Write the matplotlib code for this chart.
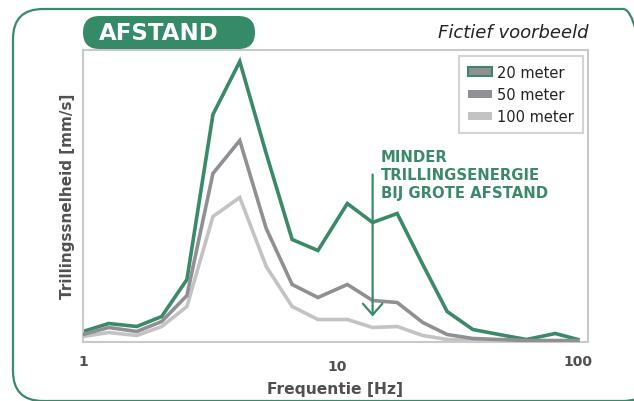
import matplotlib
matplotlib.use("Agg")
import matplotlib.pyplot as plt
from matplotlib.patches import FancyBboxPatch, Patch
from matplotlib.transforms import IdentityTransform, ScaledTranslation

# ---- data ----
freq = [1, 1.27, 1.65, 2.08, 2.63, 3.35, 4.3, 5.5, 7.0, 8.9, 11.7, 14.8,
        18.6, 23.6, 29.6, 37.6, 48, 62, 81, 100]
v20 = [10, 18, 15, 25, 62, 227, 280, 188, 102, 91, 138, 119, 128, 77, 30, 12, 7, 2, 8, 2]
v50 = [7, 14, 10, 20, 46, 168, 201, 113, 57, 44, 57, 41, 39, 19, 7, 3, 2, 1, 1, 1]
v100 = [5, 9, 6, 15, 35, 125, 144, 75, 35, 22, 22, 14, 15, 6, 2, 1, 0, 0, 0, 0]
series_labels = ["20 meter", "50 meter", "100 meter"]
xtick_vals = [1, 10, 100]
xtick_labels = ["1", "10", "100"]
arrow_freq = 14.8
arrow_top, arrow_tip = 167, 25

GREEN = "#3a8a69"
GRAY = "#909094"
LIGHT = "#c3c3c5"
TXT = "#505050"

fig = plt.figure(figsize=(6.34, 4.02), dpi=100)
W, H = 634, 402
L, R, T, B = 83, 588, 50.7, 342.5
ax = fig.add_axes([L / W, (H - B) / H, (R - L) / W, (B - T) / H])

lw = 2.6
ax.plot(freq, v20, color=GREEN, lw=lw, zorder=2, solid_joinstyle="miter")
ax.plot(freq, v100, color=LIGHT, lw=lw, zorder=2.5, solid_joinstyle="miter")
ax.plot(freq, v50, color=GRAY, lw=lw, zorder=3, solid_joinstyle="miter")

ax.set_xscale("log")
ax.set_xlim(1, 109.8)
ax.set_ylim(0, B - T)
ax.set_yticks([])
ax.set_xticks(xtick_vals)
ax.set_xticklabels(xtick_labels)
ax.minorticks_off()
ax.tick_params(axis="x", length=0, pad=9, labelsize=10, labelcolor=TXT)
for lab in ax.get_xticklabels():
    lab.set_fontweight("bold")
# hand-placed "10" label in the reference sits a bit right and lower
lbl10 = ax.get_xticklabels()[1]
lbl10.set_transform(lbl10.get_transform() + ScaledTranslation(7 / 100, -5 / 100, fig.dpi_scale_trans))

for s in ax.spines.values():
    s.set_color("#c9c9c9")
    s.set_linewidth(1.5)

ax.set_ylabel("Trillingssnelheid [mm/s]", fontsize=11, fontweight="bold", color=TXT, labelpad=6)
ax.set_xlabel("Frequentie [Hz]", fontsize=11.2, fontweight="bold", color=TXT, labelpad=6)

# legend
handles = [Patch(facecolor=GRAY, edgecolor=GREEN, linewidth=1.5),
           Patch(facecolor=GRAY, edgecolor="none"),
           Patch(facecolor=LIGHT, edgecolor="none")]
leg = ax.legend(handles, series_labels, loc="upper right",
                bbox_to_anchor=((583 - L) / (R - L), (B - 57) / (B - T)),
                borderaxespad=0, fontsize=10.5, frameon=True, fancybox=False,
                handlelength=1.65, handleheight=0.5, handletextpad=0.4,
                labelspacing=0.5, borderpad=0.6)
leg.get_frame().set_edgecolor("#c9c9c9")
leg.get_frame().set_linewidth(1.5)
for t in leg.get_texts():
    t.set_color("#222222")

# annotation arrow and text
ax.annotate("", xy=(arrow_freq, arrow_tip), xytext=(arrow_freq, arrow_top),
            arrowprops=dict(arrowstyle="->,head_length=0.8,head_width=0.7",
                            color=GREEN, lw=1.6, shrinkA=0, shrinkB=0), zorder=4)
ax.text((381 - L) / (R - L), (B - 150) / (B - T),
        "MINDER\nTRILLINGSENERGIE\nBIJ GROTE AFSTAND",
        transform=ax.transAxes, ha="left", va="top", fontsize=10.7,
        fontweight="bold", color=GREEN, linespacing=1.25, zorder=5)

# outer rounded frame (pixel coords)
outer = FancyBboxPatch((13, 0), 640, 392, boxstyle="round,pad=0,rounding_size=30",
                       transform=IdentityTransform(), facecolor="none",
                       edgecolor=GREEN, linewidth=1.6)
fig.add_artist(outer)

# title pill
pill = FancyBboxPatch((83, H - 50), 172, 33, boxstyle="round,pad=0,rounding_size=16.5",
                      transform=IdentityTransform(), facecolor="#358a68",
                      edgecolor="none")
fig.add_artist(pill)
fig.text(159 / W, (H - 34) / H, "AFSTAND", ha="center", va="center",
         fontsize=16.5, fontweight="heavy", color="white")
fig.text(588 / W, (H - 33) / H, "Fictief voorbeeld", ha="right", va="center",
         fontsize=13, fontstyle="italic", color="#222222")

fig.savefig("out.png", dpi=100)
